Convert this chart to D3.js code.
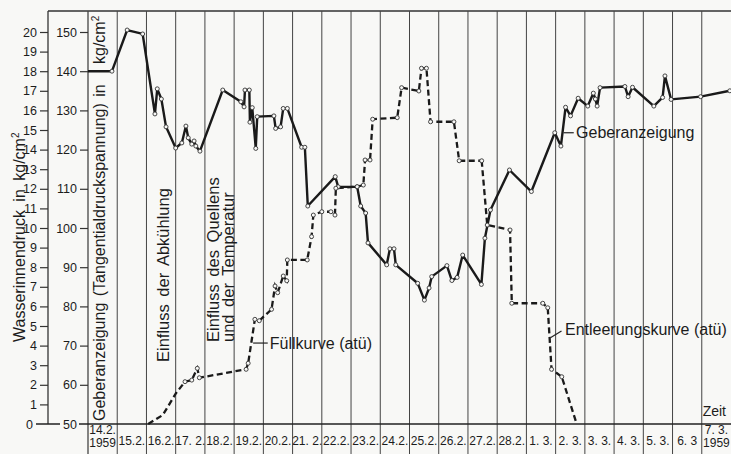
<!DOCTYPE html>
<html>
<head>
<meta charset="utf-8">
<script src="https://cdn.jsdelivr.net/npm/d3@7"></script>
<style>
  body { margin: 0; background: #f8f8f6; }
  svg { display: block; }
  text { font-family: "Liberation Sans", Arial, sans-serif; fill: #1c1c1c; }
  .narrow { font-family: "Liberation Sans Narrow", "Liberation Sans", sans-serif; }
</style>
</head>
<body>
<div id="chart"></div>
<script>
// day labels of the time axis (one column per day)
const days = ["14.2.", "15.2.", "16.2.", "17. 2.", "18.2.", "19.2.", "20.2.", "21. 2.", "22.2.",
  "23.2.", "24.2.", "25.2.", "26.2.", "27.2.", "28.2.", "1. 3.", "2. 3.", "3. 3.", "4. 3.",
  "5. 3.", "6. 3", "7. 3."];

// Geberanzeigung (kg/cm², inner scale 50..150), time in days from 14.2.
const geberDay = [0, 0.82, 1.34, 1.87, 2.29, 2.37, 2.51, 2.67, 3.0, 3.21, 3.35, 3.43, 3.55, 3.63, 3.69,
  3.83, 4.61, 5.23, 5.34, 5.37, 5.52, 5.54, 5.62, 5.74, 5.79, 6.36, 6.42, 6.59, 6.68, 6.82, 7.31,
  7.42, 7.52, 8.46, 8.56, 9.21, 9.33, 9.50, 9.58, 10.22, 10.33, 10.47, 10.53, 11.28, 11.51, 11.67,
  11.76, 12.28, 12.45, 12.63, 12.82, 13.46, 13.58, 13.77, 14.42, 15.17, 15.97, 16.18, 16.34, 16.51,
  16.77, 17.10, 17.29, 17.36, 17.42, 17.52, 18.37, 18.48, 18.63, 19.36, 19.66, 19.74, 19.95, 20.96,
  21.96];
const geberVal = [140, 140, 150.5, 149.5, 129.1, 135.5, 132.9, 125.8, 120.4, 121.7, 126, 123, 121.4,
  122.2, 120.9, 119.6, 135.2, 132.2, 130.9, 135.2, 135.2, 127.0, 130.7, 120.3, 128.4, 128.6, 125.4,
  125.8, 130.5, 130.5, 120.6, 120.6, 105.6, 113.1, 110.5, 110.5, 105.6, 103.8, 96.2, 90.6, 94.7, 94.7,
  90.6, 85.9, 81.6, 84.7, 87.6, 90.4, 86.6, 87.4, 93.1, 85.6, 97.4, 104.6, 114.8, 109.3, 124.3, 120.9,
  130.8, 128.6, 133.1, 131.1, 134.4, 132.9, 131.1, 135.8, 136.1, 133.5, 135.9, 131.1, 133.3, 138.8,
  132.8, 133.5, 135.0];

// Füllkurve (atü, outer scale 0..20)
const fillDay = [2.06, 2.56, 3.01, 3.32, 3.55, 3.74, 3.81, 5.41, 5.48, 5.71, 5.86, 6.28, 6.40, 6.49,
  6.68, 6.80, 6.82, 7.50, 7.65, 7.71, 8.00, 8.31, 8.45, 8.48, 9.21, 9.42, 9.48, 9.65, 9.74, 10.58,
  10.73, 11.32, 11.41, 11.58, 11.72, 12.52, 12.70, 13.47];
const fillVal = [0, 0.46, 1.57, 2.16, 2.24, 2.84, 2.36, 2.79, 3.10, 5.34, 5.27, 5.85, 7.04, 6.70,
  7.55, 7.31, 8.37, 8.37, 9.56, 10.66, 10.83, 10.83, 10.66, 12.03, 12.11, 12.19, 13.47, 13.47, 15.55,
  15.63, 17.16, 16.99, 18.15, 18.15, 15.42, 15.42, 13.43, 13.43];

// Entleerungskurve (atü)
const emptyDay = [13.47, 13.66, 14.44, 14.50, 15.56, 15.73, 15.86, 16.21, 16.72];
const emptyVal = [13.43, 10.15, 9.90, 6.16, 6.16, 5.93, 2.79, 2.41, 0];

// axis ticks
const atuTicks = d3.range(1, 21);
const geberTicks = d3.range(60, 151, 10);

const W = 731, H = 454;
const topY = 11, base = 424;
const bg = "#f8f8f6";

const svg = d3.select("#chart").append("svg").attr("width", W).attr("height", H);

const x = d3.scaleLinear().domain([0, 22]).range([88, 731]);
const yG = d3.scaleLinear().domain([50, 150]).range([base, 32]);
const yA = d3.scaleLinear().domain([0, 20]).range([base, 32]);

// frame and day columns
svg.append("line").attr("x1", 48).attr("x2", W).attr("y1", topY).attr("y2", topY)
  .attr("stroke", "#333").attr("stroke-width", 1.3);
svg.append("line").attr("x1", 48).attr("x2", 48).attr("y1", topY).attr("y2", base)
  .attr("stroke", "#333").attr("stroke-width", 1.3);
svg.selectAll(".col").data(d3.range(0, 22)).enter().append("line")
  .attr("x1", d => x(d)).attr("x2", d => x(d))
  .attr("y1", topY).attr("y2", H)
  .attr("stroke", "#444").attr("stroke-width", d => d === 0 ? 1.3 : 1);
svg.append("line").attr("x1", 36).attr("x2", W).attr("y1", base).attr("y2", base)
  .attr("stroke", "#222").attr("stroke-width", 1.4);

// left axis (Wasserinnendruck)
const axA = svg.append("g").attr("transform", "translate(48,0)")
  .call(d3.axisLeft(yA).tickValues(atuTicks).tickSize(8).tickPadding(3));
axA.select(".domain").remove();
svg.append("text").attr("x", 33).attr("y", base + 4.5).attr("text-anchor", "end")
  .style("font-size", "12.5px").text("0");

// inner axis (Geberanzeigung)
const axG = svg.append("g").attr("transform", "translate(88,0)")
  .call(d3.axisLeft(yG).tickValues(geberTicks).tickSize(8).tickPadding(3));
axG.select(".domain").remove();
[axA, axG].forEach(g => {
  g.selectAll(".tick line").attr("stroke", "#333").attr("stroke-width", 1.2);
  g.selectAll(".tick text").style("font-size", "12.5px")
    .style("font-family", '"Liberation Sans", Arial, sans-serif').attr("fill", "#1c1c1c");
});
svg.append("rect").attr("x", 60).attr("y", base - 6).attr("width", 19).attr("height", 12)
  .attr("fill", bg);
svg.append("text").attr("x", 77).attr("y", base + 4.5).attr("text-anchor", "end")
  .style("font-size", "12.5px").text("50");

// axis titles
const t1 = svg.append("text").attr("transform", "translate(25,342) rotate(-90)")
  .style("font-size", "16px").style("word-spacing", "4px");
t1.append("tspan").text("Wasserinnendruck in kg/cm");
t1.append("tspan").attr("dy", -6).style("font-size", "10px").text("2");

svg.append("text").attr("transform", "translate(105,421) rotate(-90)")
  .style("font-size", "16px").style("word-spacing", "2px")
  .text("Geberanzeigung (Tangentialdruckspannung) in");
const t2 = svg.append("text").attr("transform", "translate(105,64) rotate(-90)")
  .style("font-size", "16px");
t2.append("tspan").text("kg/cm");
t2.append("tspan").attr("dy", -6).style("font-size", "10px").text("2");

// annotations
svg.append("text").attr("transform", "translate(169,362) rotate(-90)")
  .style("font-size", "16.5px").style("word-spacing", "3px").text("Einfluss der Abkühlung");
svg.append("text").attr("transform", "translate(219,342) rotate(-90)")
  .style("font-size", "16.5px").style("word-spacing", "3px").text("Einfluss des Quellens");
svg.append("text").attr("transform", "translate(234,342) rotate(-90)")
  .style("font-size", "16.5px").style("word-spacing", "3px").text("und der Temperatur");

// day labels
const lab = svg.append("g").attr("class", "narrow");
days.forEach((d, i) => {
  const cx = x(i + 0.5);
  if (i === 0 || i === days.length - 1) {
    lab.append("text").attr("x", cx).attr("y", 433.5).attr("text-anchor", "middle")
      .style("font-size", "12px").text(d);
    lab.append("text").attr("x", cx).attr("y", 447).attr("text-anchor", "middle")
      .style("font-size", "12px").text("1959");
  } else {
    lab.append("text").attr("x", cx).attr("y", 445).attr("text-anchor", "middle")
      .style("font-size", "12px").text(d);
  }
});
svg.append("text").attr("x", x(21.03)).attr("y", 416).style("font-size", "14px").text("Zeit");

// curves
const geber = geberDay.map((d, i) => ({ d, v: geberVal[i] }));
const fill = fillDay.map((d, i) => ({ d, v: fillVal[i] }));
const empty = emptyDay.map((d, i) => ({ d, v: emptyVal[i] }));

const lineG = d3.line().x(p => x(p.d)).y(p => yG(p.v));
const lineA = d3.line().x(p => x(p.d)).y(p => yA(p.v));

svg.append("path").datum(fill).attr("d", lineA)
  .attr("fill", "none").attr("stroke", "#1a1a1a").attr("stroke-width", 2.3)
  .attr("stroke-dasharray", "6,3.5");
svg.append("path").datum(empty).attr("d", lineA)
  .attr("fill", "none").attr("stroke", "#1a1a1a").attr("stroke-width", 2.3)
  .attr("stroke-dasharray", "6,3.5");
svg.append("path").datum(geber).attr("d", lineG)
  .attr("fill", "none").attr("stroke", "#1a1a1a").attr("stroke-width", 2.4)
  .attr("stroke-linejoin", "round");

// small open circles at the measured points
const dot = (sel, data, yS) => sel.selectAll(null).data(data).enter().append("circle")
  .attr("cx", p => x(p.d)).attr("cy", p => yS(p.v)).attr("r", 2)
  .attr("fill", bg).attr("stroke", "#333").attr("stroke-width", 0.9);
dot(svg.append("g"), geber.slice(1), yG);
dot(svg.append("g"), fill.slice(3), yA);
dot(svg.append("g"), empty.slice(1, -1), yA);

// curve labels with leaders
svg.append("line").attr("x1", x(5.65)).attr("x2", x(6.15)).attr("y1", yA(4.13)).attr("y2", yA(4.13))
  .attr("stroke", "#222").attr("stroke-width", 1.2);
svg.append("text").attr("x", x(6.22)).attr("y", yA(3.82)).style("font-size", "16px")
  .text("Füllkurve (atü)");

svg.append("line").attr("x1", x(16.27)).attr("x2", x(16.62)).attr("y1", yG(124.3)).attr("y2", yG(124.3))
  .attr("stroke", "#222").attr("stroke-width", 1.2);
svg.append("text").attr("x", x(16.7)).attr("y", yG(123)).style("font-size", "16px")
  .text("Geberanzeigung");

svg.append("line").attr("x1", x(15.82)).attr("x2", x(16.2)).attr("y1", yA(4.4)).attr("y2", yA(4.75))
  .attr("stroke", "#222").attr("stroke-width", 1.2);
svg.append("text").attr("x", x(16.32)).attr("y", yA(4.55)).style("font-size", "16px")
  .text("Entleerungskurve (atü)");
</script>
</body>
</html>
